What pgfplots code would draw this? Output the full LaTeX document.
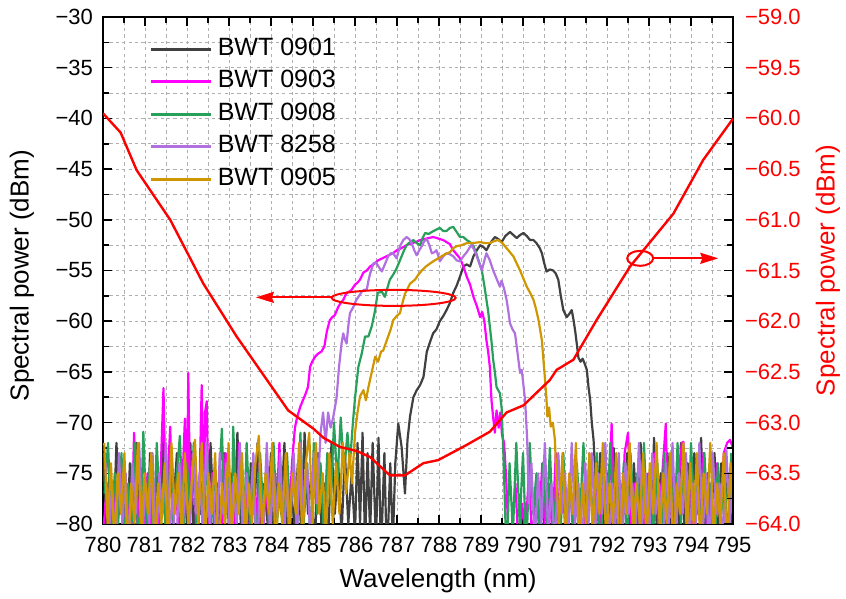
\documentclass[border=0pt]{standalone}
\usepackage{pgfplots}
\pgfplotsset{compat=1.18}
\usepackage{fontspec}
\setmainfont{Liberation Sans}
\usetikzlibrary{arrows.meta}
\definecolor{cblack}{RGB}{64,64,64}
\definecolor{cmag}{RGB}{255,0,255}
\definecolor{cgreen}{RGB}{40,160,90}
\definecolor{cpurp}{RGB}{176,112,224}
\definecolor{cgold}{RGB}{208,150,0}
\definecolor{gridgray}{RGB}{175,175,175}
\begin{document}
\begin{tikzpicture}
\pgfplotsset{
  base/.style={
    width=315pt, height=253.5pt, scale only axis,
    xmin=780, xmax=795,
    tick align=inside,
    axis line style={line width=0.75pt},
    every tick/.style={black, line width=0.75pt},
    major tick length=4.5pt, minor tick length=3pt,
    tick label style={font=\fontsize{11}{13}\selectfont},
  }
}
\begin{axis}[base,
  ymin=-80, ymax=-30,
  xtick={780,781,...,795}, minor x tick num=1,
  ytick={-80,-75,...,-30}, minor y tick num=1,
  xtick pos=both, ytick pos=left,
  grid=both,
  grid style={gridgray, line width=0.4pt, dash pattern=on 1.6pt off 1.6pt},
  major grid style={gridgray, line width=0.4pt, dash pattern=on 1.6pt off 1.6pt},
  minor grid style={gridgray, line width=0.4pt, dash pattern=on 1.6pt off 1.6pt},
  xticklabel style={/pgf/number format/assume math mode=true, /pgf/number format/1000 sep={}, yshift=-3pt},
  yticklabel={\pgfmathsetmacro\myv{abs(\tick)}−\pgfmathprintnumber[fixed,precision=0,assume math mode=true]{\myv}},
  yticklabel style={xshift=-1.5pt},
  xlabel={Wavelength (nm)},
  xlabel style={font=\fontsize{13}{15}\selectfont, at={(axis description cs:0.532,-0.112)}, anchor=center},
  ylabel={Spectral power (dBm)},
  ylabel style={font=\fontsize{13}{15}\selectfont, at={(axis description cs:-0.1286,0.49)}, anchor=center},
  every axis plot/.append style={line width=1.1pt, line join=round},
  legend image code/.code={\draw[#1, line width=1.4pt] (0pt,0pt) -- (30pt,0pt);},
  legend style={at={(0.074,0.9606)}, anchor=north west, draw=none, fill=none,
    font=\fontsize{12.5}{15}\selectfont, row sep=4.25pt, inner sep=0pt,
    nodes={inner sep=0pt, text height=9pt, text depth=3pt},
    /tikz/every odd column/.append style={column sep=2.5pt}},
  legend cell align=left,
]
% BWT 0901
\addplot[cblack] coordinates {
(780.00,-73)(780.08,-80)(780.16,-75)(780.24,-82)(780.32,-72)(780.40,-79)(780.48,-76)(780.56,-83)(780.64,-74)(780.72,-80)
(780.80,-72)(780.88,-81)(780.96,-77)(781.04,-84)(781.12,-73)(781.20,-79)(781.28,-75)(781.36,-82)(781.44,-71)(781.52,-80)
(781.60,-76)(781.68,-78)(781.76,-73)(781.84,-83)(781.92,-75)(782.00,-80)(782.08,-72)(782.16,-81)(782.24,-77)(782.32,-79)
(782.40,-74)(782.48,-84)(782.56,-72)(782.64,-80)(782.72,-76)(782.80,-82)(782.88,-73)(782.96,-79)(783.04,-75)(783.12,-81)
(783.20,-71)(783.28,-80)(783.36,-77)(783.44,-83)(783.52,-74)(783.60,-79)(783.68,-72)(783.76,-81)(783.84,-76)(783.92,-80)
(784.00,-73)(784.08,-84)(784.16,-75)(784.24,-79)(784.32,-72)(784.40,-82)(784.48,-77)(784.56,-80)(784.64,-74)(784.72,-81)
(784.80,-71)(784.88,-79)(784.96,-75)(785.04,-83)(785.12,-73)(785.20,-80)(785.28,-76)(785.36,-82)(785.44,-72)(785.52,-79)
(785.60,-74)(785.68,-81)(785.76,-73)(785.84,-80)(785.92,-75)
(786.00,-81)(786.06,-72)(786.12,-80)(786.18,-71)(786.24,-82)(786.30,-73)(786.36,-81)(786.42,-72)(786.50,-82)(786.56,-71.5)
(786.62,-83)(786.70,-73)(786.76,-84)(786.84,-74)(786.90,-82)(786.96,-74)(787.03,-70.1)(787.11,-72.4)(787.19,-77)(787.25,-71.7)
(787.31,-69.4)(787.39,-67.5)(787.47,-66.8)(787.55,-66.3)(787.63,-65.5)(787.71,-63.0)(787.79,-62.0)(787.86,-61.2)(787.94,-60.8)
(788.02,-60.0)(788.10,-59.5)(788.18,-58.9)(788.26,-58.2)(788.34,-57.2)(788.42,-56.5)(788.50,-55.6)(788.58,-54.6)(788.66,-54.4)
(788.74,-54.6)(788.82,-53.6)(788.90,-53.0)(788.98,-52.5)(789.06,-52.7)(789.13,-53.0)(789.22,-52.3)(789.33,-51.7)(789.41,-51.9)
(789.49,-52.2)(789.58,-51.6)(789.69,-51.2)(789.77,-51.5)(789.85,-51.8)(789.93,-51.5)(790.01,-51.3)(790.09,-51.6)(790.17,-52.0)
(790.25,-52.0)(790.32,-52.3)(790.40,-52.8)(790.45,-53.3)(790.50,-54.2)(790.56,-55.1)(790.64,-54.9)(790.72,-55.0)(790.78,-55.3)
(790.84,-55.9)(790.90,-57.5)(790.96,-58.9)(791.04,-59.6)(791.10,-59.3)(791.16,-58.9)(791.20,-59.8)(791.24,-60.9)(791.28,-62.2)
(791.32,-63.6)(791.37,-64.0)(791.42,-63.7)(791.47,-64.2)(791.52,-64.8)(791.56,-66.5)(791.60,-67.8)(791.64,-70.1)(791.68,-71.7)
(791.72,-75)(791.76,-79)(791.84,-73)(791.92,-81)(792.00,-75)(792.08,-80)(792.16,-72.5)(792.24,-82)(792.32,-76)(792.40,-79)
(792.48,-73)(792.56,-84)(792.64,-74)(792.72,-80)(792.80,-72)(792.88,-81)(792.96,-76)(793.04,-83)(793.12,-71.5)(793.20,-80)
(793.28,-75)(793.36,-82)(793.44,-73)(793.52,-79)(793.60,-76)(793.68,-84)(793.76,-72)(793.84,-80)(793.92,-74)(794.00,-81)
(794.08,-73)(794.16,-79)(794.24,-71.5)(794.32,-82)(794.40,-75)(794.48,-80)(794.56,-73)(794.64,-83)(794.72,-74)(794.80,-80)
(794.88,-75)(794.96,-82)(795.00,-77)
};
\addlegendentry{BWT 0901}
% BWT 0903
\addplot[cmag] coordinates {
(780.02,-80)(780.10,-76)(780.18,-83)(780.26,-77)(780.34,-81)(780.42,-74)(780.50,-80)(780.58,-78)(780.66,-84)(780.74,-71)
(780.82,-80)(780.90,-76)(780.98,-82)(781.06,-75)(781.14,-81)(781.22,-77)(781.30,-84)(781.38,-74)(781.44,-66.6)(781.50,-79)
(781.56,-74)(781.60,-70.4)(781.66,-80)(781.74,-76)(781.82,-83)(781.90,-75)(781.95,-69.6)(782.00,-78)(782.03,-65.1)(782.08,-79)
(782.16,-75)(782.24,-82)(782.30,-76)(782.35,-66.3)(782.40,-78)(782.43,-69)(782.47,-67.9)(782.52,-80)(782.60,-75)(782.68,-82)
(782.76,-77)(782.84,-80)(782.92,-73)(783.00,-81)(783.08,-76)(783.16,-84)(783.24,-72)(783.32,-80)(783.40,-77)(783.48,-83)
(783.56,-75)(783.64,-80)(783.72,-74)(783.80,-82)(783.88,-76)(783.96,-81)(784.04,-73)(784.12,-80)(784.20,-72)(784.28,-81)
(784.36,-75)(784.44,-79)(784.50,-74)
(784.57,-70.5)(784.62,-69.5)(784.70,-68.4)(784.76,-67.8)(784.82,-67.2)(784.88,-66.5)(784.93,-64.5)(784.98,-64.0)(785.05,-63.5)
(785.12,-63.2)(785.20,-63.0)(785.27,-62.5)(785.33,-61.0)(785.40,-59.9)(785.46,-59.6)(785.52,-59.4)(785.60,-58.6)(785.66,-58.2)
(785.72,-57.9)(785.80,-57.2)(785.86,-57.1)(785.92,-56.9)(786.00,-56.4)(786.06,-56.2)(786.12,-55.9)(786.20,-55.2)(786.28,-55.0)
(786.36,-54.6)(786.44,-54.4)(786.55,-54.0)(786.65,-53.8)(786.75,-53.6)(786.90,-53.3)(787.00,-53.0)(787.10,-52.8)(787.23,-52.5)
(787.35,-52.3)(787.45,-52.2)(787.55,-52.0)(787.65,-51.9)(787.75,-51.8)(787.86,-51.7)(787.95,-51.8)(788.02,-51.9)(788.10,-52.0)
(788.18,-52.2)(788.26,-52.4)(788.34,-53.0)(788.42,-53.4)(788.50,-53.8)(788.58,-54.6)(788.66,-55.6)(788.74,-56.4)(788.82,-57.6)
(788.90,-58.5)(788.98,-59.6)(789.03,-59.1)(789.08,-60.0)(789.13,-61.9)(789.17,-63.0)(789.21,-64.5)(789.25,-67.8)(789.29,-69.5)
(789.33,-71.0)(789.37,-68.8)(789.42,-70.5)(789.46,-69.0)(789.50,-71.2)(789.55,-72.0)(789.60,-75.5)(789.66,-82)
(789.74,-80)(789.82,-76)(789.90,-83)(789.98,-78)(790.06,-81)(790.14,-75)(790.22,-82)(790.30,-77)(790.38,-80)(790.46,-74)
(790.54,-83)(790.62,-76)(790.70,-81)(790.78,-73)(790.86,-80)(790.94,-75)(791.02,-82)(791.10,-77)(791.18,-79)(791.26,-74)
(791.34,-81)(791.42,-76)(791.50,-84)(791.58,-73)(791.66,-80)(791.74,-75)(791.82,-82)(791.90,-74)(791.98,-80)(792.06,-76)
(792.11,-70.1)(792.18,-80)(792.26,-75)(792.34,-82)(792.42,-73)(792.50,-71)(792.58,-80)(792.66,-76)(792.74,-83)(792.82,-74)
(792.90,-80)(792.98,-75)(793.06,-82)(793.14,-73)(793.22,-80)(793.30,-76)(793.40,-70.1)(793.46,-81)(793.54,-74)(793.62,-80)
(793.70,-76)(793.78,-72)(793.82,-71.9)(793.90,-81)(793.98,-75)(794.06,-82)(794.14,-74)(794.22,-80)(794.30,-73)(794.38,-81)
(794.46,-76)(794.54,-83)(794.62,-74)(794.70,-80)(794.78,-73)(794.86,-72)(794.93,-71.7)(795.00,-72.5)
};
\addlegendentry{BWT 0903}
% BWT 0908
\addplot[cgreen] coordinates {
(780.04,-77)(780.12,-72)(780.20,-81)(780.28,-75)(780.36,-80)(780.44,-73)(780.52,-83)(780.60,-76)(780.68,-80)(780.76,-72)
(780.84,-82)(780.92,-77)(780.96,-70.9)(781.04,-80)(781.12,-74)(781.20,-82)(781.28,-72)(781.36,-79)(781.44,-76)(781.52,-84)
(781.60,-73)(781.68,-80)(781.76,-75)(781.83,-71.3)(781.92,-81)(782.00,-74)(782.08,-79)(782.16,-72)(782.24,-83)(782.32,-76)
(782.40,-80)(782.48,-73)(782.56,-81)(782.64,-75)(782.72,-79)(782.83,-70.6)(782.90,-80)(782.98,-75)(783.06,-82)(783.10,-70.4)
(783.18,-79)(783.26,-74)(783.34,-83)(783.42,-72)(783.50,-80)(783.58,-76)(783.66,-82)(783.74,-73)(783.82,-79)(783.90,-75)
(783.98,-81)(784.06,-72)(784.14,-80)(784.22,-76)(784.30,-83)(784.38,-73)(784.46,-79)(784.54,-75)(784.62,-81)(784.70,-71)
(784.78,-80)(784.86,-74)(784.94,-82)(785.02,-72)(785.10,-79)(785.18,-74)(785.26,-81)(785.34,-73)(785.42,-78)(785.50,-70)
(785.58,-76)(785.66,-69.5)(785.74,-75)(785.82,-71)(785.88,-74)(785.95,-70)
(786.00,-67.6)(786.08,-64.5)(786.16,-63.2)(786.24,-61.5)(786.32,-61.5)(786.40,-60.5)(786.48,-58.9)(786.54,-57.2)(786.64,-57.1)
(786.71,-57.6)(786.78,-56.6)(786.83,-55.9)(786.91,-55.4)(786.99,-54.8)(787.05,-54.2)(787.11,-53.6)(787.17,-53.0)(787.23,-52.5)
(787.31,-52.2)(787.39,-52.0)(787.47,-52.3)(787.55,-52.5)(787.61,-51.8)(787.67,-51.3)(787.75,-51.4)(787.83,-51.2)(787.92,-51.0)
(788.02,-50.8)(788.10,-51.1)(788.18,-51.1)(788.26,-50.8)(788.34,-50.7)(788.42,-51.2)(788.50,-51.7)(788.58,-51.7)(788.66,-52.0)
(788.74,-52.2)(788.82,-52.6)(788.88,-53.2)(788.94,-54.0)(789.02,-55.0)(789.08,-56.5)(789.13,-57.9)(789.17,-59.0)(789.21,-60.5)
(789.25,-62.0)(789.29,-63.8)(789.33,-65.0)(789.37,-66.5)(789.41,-66.8)(789.45,-67.1)(789.49,-68.5)(789.53,-72.7)(789.57,-78)
(789.61,-84)
(789.68,-74)(789.76,-81)(789.84,-72)(789.92,-80)(790.00,-73)(790.08,-83)(790.16,-72)(790.24,-79)(790.32,-75)(790.40,-82)
(790.48,-74)(790.56,-80)(790.64,-72.5)(790.72,-81)(790.80,-76)(790.88,-83)(790.96,-73)(791.04,-80)(791.12,-75)(791.20,-82)
(791.28,-74)(791.36,-79)(791.44,-72)(791.52,-81)(791.60,-76)(791.68,-80)(791.76,-73)(791.84,-84)(791.92,-75)(792.00,-79)
(792.08,-72)(792.16,-81)(792.24,-76)(792.32,-80)(792.40,-74)(792.48,-83)(792.56,-73)(792.64,-79)(792.72,-75)(792.80,-82)
(792.88,-72)(792.96,-80)(793.04,-76)(793.12,-81)(793.20,-74)(793.28,-83)(793.36,-73)(793.44,-79)(793.52,-75)(793.60,-81)
(793.68,-72)(793.76,-80)(793.84,-74)(793.92,-82)(794.00,-72)(794.08,-79)(794.16,-75)(794.24,-81)(794.32,-73)(794.40,-80)
(794.48,-76)(794.56,-83)(794.64,-74)(794.72,-79)(794.80,-75)(794.88,-82)(794.96,-73)
};
\addlegendentry{BWT 0908}
% BWT 8258
\addplot[cpurp] coordinates {
(780.06,-74)(780.14,-81)(780.22,-76)(780.30,-83)(780.38,-73)(780.46,-80)(780.54,-75)(780.62,-82)(780.70,-74)(780.78,-79)
(780.86,-72)(780.94,-81)(781.02,-76)(781.10,-80)(781.18,-73)(781.26,-83)(781.34,-75)(781.42,-79)(781.50,-72)(781.58,-81)
(781.66,-77)(781.74,-84)(781.82,-74)(781.90,-80)(781.98,-76)(782.06,-82)(782.14,-73)(782.22,-79)(782.30,-75)(782.38,-81)
(782.46,-72)(782.54,-80)(782.62,-76)(782.70,-83)(782.78,-73)(782.86,-79)(782.94,-74)(783.02,-81)(783.10,-76)(783.18,-80)
(783.26,-72)(783.34,-82)(783.42,-75)(783.50,-79)(783.58,-73)(783.66,-84)(783.74,-76)(783.82,-80)(783.90,-72)(783.98,-81)
(784.06,-75)(784.14,-79)(784.22,-73)(784.30,-82)(784.38,-76)(784.46,-80)(784.54,-73)(784.62,-81)(784.70,-72)(784.78,-79)
(784.86,-74)(784.94,-82)(785.02,-73)(785.10,-78)(785.18,-71)(785.24,-69)(785.30,-72)(785.36,-69)(785.42,-70.5)
(785.48,-69.5)(785.56,-67.6)(785.62,-64.5)(785.68,-62.2)(785.72,-61.2)(785.76,-61.8)(785.80,-62.2)(785.84,-60.5)(785.88,-59.2)
(785.96,-58.6)(786.02,-58.0)(786.08,-57.6)(786.16,-57.1)(786.22,-56.9)(786.28,-56.9)(786.32,-56.0)(786.36,-55.3)(786.44,-54.3)
(786.50,-54.2)(786.56,-54.6)(786.64,-55.1)(786.72,-54.3)(786.79,-53.6)(786.85,-53.3)(786.91,-53.3)(786.99,-53.8)(787.07,-52.6)
(787.15,-52.0)(787.23,-51.7)(787.29,-51.9)(787.35,-52.3)(787.41,-53.0)(787.47,-53.5)(787.53,-53.0)(787.59,-52.6)(787.65,-52.1)
(787.71,-51.9)(787.77,-52.5)(787.83,-53.3)(787.89,-53.2)(787.94,-53.0)(787.98,-53.5)(788.02,-54.1)(788.10,-53.6)(788.18,-53.3)
(788.26,-53.4)(788.34,-53.6)(788.42,-54.0)(788.50,-54.1)(788.58,-53.6)(788.66,-53.2)(788.72,-52.8)(788.78,-52.5)(788.84,-53.0)
(788.90,-53.6)(788.96,-54.3)(789.02,-55.0)(789.08,-54.0)(789.13,-53.3)(789.21,-54.0)(789.29,-55.0)(789.37,-55.8)(789.45,-56.6)
(789.49,-56.0)(789.55,-56.8)(789.61,-57.9)(789.65,-59.0)(789.69,-60.2)(789.75,-60.8)(789.81,-61.2)(789.85,-62.5)(789.89,-63.8)
(789.93,-65.1)(789.97,-64.8)(790.01,-66.3)(790.05,-67.8)(790.10,-71.7)(790.14,-78)
(790.20,-74)(790.28,-82)(790.36,-75)(790.44,-80)(790.52,-72)(790.60,-81)(790.68,-76)(790.76,-83)(790.84,-73)(790.92,-79)
(791.00,-75)(791.08,-82)(791.16,-72)(791.24,-80)(791.32,-76)(791.40,-84)(791.48,-74)(791.56,-80)(791.64,-73)(791.72,-81)
(791.80,-75)(791.88,-79)(791.96,-72)(792.04,-82)(792.12,-76)(792.20,-80)(792.28,-73)(792.36,-83)(792.44,-74)(792.52,-79)
(792.60,-76)(792.68,-81)(792.76,-72)(792.84,-80)(792.92,-75)(793.00,-82)(793.08,-73)(793.16,-79)(793.24,-76)(793.32,-84)
(793.40,-74)(793.48,-80)(793.56,-72)(793.64,-81)(793.72,-75)(793.80,-79)(793.88,-73)(793.96,-82)(794.04,-76)(794.12,-80)
(794.20,-72)(794.28,-81)(794.36,-75)(794.44,-83)(794.52,-73)(794.60,-79)(794.68,-76)(794.76,-82)(794.84,-72.5)(794.92,-80)
(795.00,-75)
};
\addlegendentry{BWT 8258}
% BWT 0905
\addplot[cgold] coordinates {
(780.03,-72)(780.11,-80)(780.19,-74)(780.27,-82)(780.35,-75)(780.43,-79)(780.51,-73)(780.59,-84)(780.67,-76)(780.75,-80)
(780.83,-72)(780.91,-81)(780.99,-75)(781.07,-79)(781.15,-73)(781.23,-83)(781.31,-76)(781.39,-80)(781.47,-74)(781.55,-82)
(781.63,-72)(781.71,-79)(781.79,-75)(781.87,-81)(781.95,-73)(782.03,-80)(782.11,-76)(782.19,-71.7)(782.27,-80)(782.35,-72)
(782.43,-82)(782.51,-75)(782.59,-79)(782.67,-73)(782.75,-84)(782.83,-76)(782.91,-80)(782.99,-72)(783.07,-81)(783.15,-75)
(783.23,-79)(783.31,-73)(783.39,-82)(783.47,-76)(783.55,-80)(783.63,-74)(783.71,-71.3)(783.79,-81)(783.87,-75)(783.95,-79)
(784.03,-72)(784.11,-83)(784.19,-76)(784.27,-80)(784.35,-73)(784.43,-81)(784.51,-75)(784.59,-79)(784.67,-72)(784.75,-82)
(784.83,-74)(784.91,-71)(784.99,-80)(785.07,-72)(785.15,-79)(785.23,-75)(785.31,-81)(785.39,-73)(785.47,-80)(785.55,-74)
(785.63,-79)(785.71,-72)(785.79,-77)(785.87,-73)(785.93,-76)
(786.00,-71)(786.06,-69)(786.12,-67.4)(786.20,-66.8)(786.26,-67.8)(786.32,-66.5)(786.40,-65.0)(786.48,-63.5)(786.55,-64.0)
(786.62,-63.0)(786.67,-62.9)(786.73,-62.2)(786.79,-61.5)(786.85,-60.8)(786.91,-59.9)(786.99,-59.5)(787.07,-59.2)(787.13,-58.2)
(787.19,-57.3)(787.25,-56.8)(787.31,-56.3)(787.43,-55.9)(787.51,-55.4)(787.59,-55.0)(787.69,-54.6)(787.79,-54.3)(787.90,-54.0)
(788.02,-53.7)(788.14,-53.4)(788.26,-53.2)(788.34,-52.8)(788.42,-52.6)(788.54,-52.5)(788.66,-52.3)(788.80,-52.3)(788.98,-52.2)
(789.10,-52.3)(789.21,-52.3)(789.31,-52.1)(789.41,-52.0)(789.51,-52.3)(789.61,-52.8)(789.69,-53.2)(789.77,-53.6)(789.85,-54.3)
(789.93,-55.0)(790.01,-55.8)(790.09,-56.6)(790.17,-57.2)(790.25,-57.9)(790.31,-58.8)(790.37,-59.9)(790.41,-60.9)(790.45,-61.9)
(790.49,-64.0)(790.52,-65.5)(790.56,-67.8)(790.58,-69.4)(790.62,-68.5)(790.66,-70.4)(790.71,-70.0)(790.76,-71.7)(790.80,-76)
(790.86,-80)(790.94,-73)(791.02,-81)(791.10,-75)(791.18,-79)(791.26,-72)(791.34,-83)(791.42,-76)(791.50,-80)(791.58,-73)
(791.66,-81)(791.74,-74)(791.82,-79)(791.90,-72)(791.98,-82)(792.06,-76)(792.14,-80)(792.22,-73)(792.30,-84)(792.38,-75)
(792.46,-79)(792.54,-72)(792.62,-81)(792.70,-76)(792.78,-80)(792.86,-73)(792.94,-82)(793.02,-74)(793.10,-79)(793.18,-72)
(793.26,-81)(793.34,-75)(793.42,-80)(793.50,-73)(793.58,-83)(793.66,-76)(793.74,-79)(793.82,-72)(793.90,-81)(793.98,-74)
(794.06,-80)(794.14,-73)(794.22,-82)(794.30,-75)(794.38,-79)(794.46,-72)(794.54,-81)(794.62,-76)(794.70,-80)(794.78,-73)
(794.86,-83)(794.94,-74)(795.00,-79)
};
\addlegendentry{BWT 0905}
\end{axis}
\begin{axis}[base,
  ymin=-64, ymax=-59,
  axis x line=none, axis y line*=right,
  ytick={-64,-63.5,...,-59}, minor y tick num=1,
  yticklabel={\pgfmathsetmacro\myv{abs(\tick)}−\pgfmathprintnumber[fixed,fixed zerofill,precision=1,assume math mode=true]{\myv}},
  yticklabel style={red, xshift=2.5pt},
  ylabel={Spectral power (dBm)},
  ylabel style={red, font=\fontsize{13}{15}\selectfont, at={(axis description cs:1.1508,0.5)}, anchor=center},
]
\addplot[red, line width=1.2pt, line join=round] coordinates {
(780.00,-59.95)(780.42,-60.14)(780.80,-60.51)(781.60,-61.00)(782.39,-61.63)(783.18,-62.15)(784.41,-62.88)(785.01,-63.06)
(785.25,-63.15)(785.64,-63.24)(786.04,-63.28)(786.36,-63.34)(786.83,-63.52)(787.19,-63.52)(787.63,-63.40)(787.98,-63.37)
(788.66,-63.22)(789.21,-63.09)(789.61,-62.90)(790.01,-62.83)(790.64,-62.58)(790.80,-62.48)(791.20,-62.38)(791.75,-61.99)
(792.55,-61.46)(793.58,-60.94)(794.29,-60.41)(794.97,-60.02)(795.00,-60.00)
};
\draw[red, line width=1pt] (axis cs:786.92,-61.77) ellipse [x radius=31pt, y radius=4pt];
\draw[red, line width=1pt, -{Stealth[length=9pt,width=5.5pt,inset=1pt]}] (axis cs:785.45,-61.765) -- (axis cs:783.64,-61.765);
\draw[red, line width=1pt] (axis cs:792.79,-61.38) ellipse [x radius=6.5pt, y radius=3.75pt];
\draw[red, line width=1pt, -{Stealth[length=9pt,width=5.5pt,inset=1pt]}] (axis cs:793.10,-61.38) -- (axis cs:794.65,-61.38);
\end{axis}
\pgfresetboundingbox
\path (-51.5pt,-37.5pt) rectangle (371.5pt,262pt);
\end{tikzpicture}
\end{document}
